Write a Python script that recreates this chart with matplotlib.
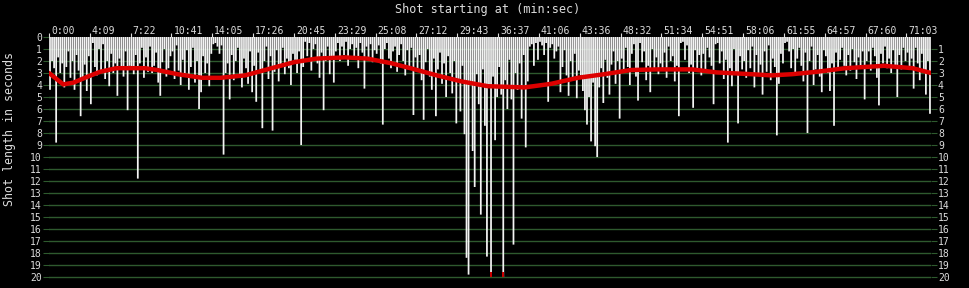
#!/usr/bin/env python3
import matplotlib
matplotlib.use('Agg')
import matplotlib.pyplot as plt
from matplotlib.transforms import ScaledTranslation
import numpy as np

# Длины планов (сек), по 20 планов на деление верхней оси
seg00 = [4.4, 2.0, 2.6, 8.8, 1.7, 3.0, 2.2, 4.2, 2.5, 1.2, 3.4, 2.0, 4.4, 1.5, 2.8, 6.6, 3.6, 2.3, 4.5, 1.6]
seg01 = [5.6, 0.5, 2.5, 3.2, 1.0, 2.8, 0.6, 3.5, 2.0, 4.1, 1.4, 3.0, 2.2, 4.9, 1.8, 2.7, 3.3, 1.2, 6.1, 2.4]
seg02 = [2.6, 3.1, 1.5, 11.8, 2.2, 0.9, 3.4, 1.7, 2.9, 0.8, 3.0, 2.4, 1.3, 3.8, 4.9, 2.1, 1.0, 3.3, 2.6, 1.6]
seg03 = [1.2, 3.5, 0.7, 2.8, 4.0, 1.9, 3.2, 1.1, 4.4, 2.5, 0.9, 3.8, 2.0, 6.0, 4.6, 1.6, 3.0, 2.2, 4.1, 1.4]
seg04 = [0.6, 0.5, 0.8, 1.4, 0.7, 9.8, 3.0, 2.2, 5.2, 1.5, 3.6, 2.0, 0.9, 3.3, 4.2, 1.8, 2.6, 3.9, 1.2, 4.6]
seg05 = [2.4, 5.4, 1.3, 3.0, 7.6, 2.0, 0.8, 3.5, 1.6, 7.8, 2.9, 1.1, 3.7, 2.3, 0.9, 3.1, 1.8, 2.6, 4.0, 1.4]
seg06 = [1.9, 3.0, 1.2, 9.0, 2.5, 0.4, 1.6, 0.5, 2.8, 1.0, 0.6, 2.2, 3.4, 1.3, 6.1, 2.0, 0.8, 3.1, 1.7, 3.8]
seg07 = [1.2, 0.5, 2.0, 0.8, 1.5, 0.4, 2.4, 1.0, 0.6, 1.8, 0.9, 2.6, 0.5, 1.3, 4.3, 0.8, 1.7, 0.6, 2.1, 1.1]
seg08 = [1.4, 0.7, 2.2, 7.3, 1.0, 0.5, 1.8, 2.6, 1.2, 0.8, 2.9, 1.5, 0.6, 2.0, 3.2, 1.1, 2.5, 0.9, 6.5, 1.7]
seg09 = [2.8, 1.5, 3.6, 6.9, 2.1, 1.0, 3.3, 4.4, 1.8, 6.6, 2.7, 1.3, 3.9, 2.2, 5.0, 1.6, 3.0, 4.7, 2.0, 7.2]
seg10 = [3.5, 6.2, 2.4, 8.1, 18.4, 19.8, 4.0, 9.5, 12.5, 3.1, 5.6, 14.8, 2.7, 7.4, 18.3, 4.2, 20.5, 3.3, 8.6, 5.0]
seg11 = [2.5, 4.8, 21.0, 3.6, 6.0, 1.9, 5.2, 17.3, 3.0, 4.4, 2.2, 6.8, 1.5, 9.2, 3.7, 0.8, 0.6, 2.4, 0.5, 1.9]
seg12 = [0.4, 0.7, 1.5, 0.5, 5.4, 0.9, 0.6, 1.8, 1.2, 0.8, 4.6, 2.5, 1.1, 3.2, 4.9, 2.0, 3.6, 1.4, 5.1, 2.8]
seg13 = [3.2, 4.5, 6.1, 7.3, 5.0, 8.7, 3.8, 9.1, 10.0, 4.2, 2.6, 5.5, 1.9, 3.4, 4.8, 2.3, 1.2, 3.9, 2.0, 6.8]
seg14 = [1.8, 3.0, 0.9, 2.5, 4.0, 1.4, 0.6, 3.3, 5.3, 0.5, 2.1, 1.2, 3.6, 2.4, 4.6, 1.0, 2.8, 1.7, 3.1, 2.2]
seg15 = [2.6, 1.3, 3.4, 0.8, 2.0, 1.6, 3.7, 2.4, 6.6, 0.5, 0.4, 1.9, 0.7, 3.0, 2.3, 5.9, 1.1, 2.7, 1.5, 3.2]
seg16 = [1.4, 2.8, 0.9, 1.7, 2.4, 5.6, 0.6, 0.5, 2.2, 1.2, 3.5, 1.9, 8.8, 2.6, 4.1, 1.0, 3.0, 7.2, 1.6, 2.7]
seg17 = [2.0, 3.4, 1.1, 2.6, 0.8, 4.2, 1.5, 3.0, 2.3, 4.8, 1.2, 2.9, 0.7, 3.6, 1.8, 2.5, 8.2, 3.9, 1.4, 2.2]
seg18 = [0.5, 0.4, 1.2, 2.6, 1.0, 3.1, 1.8, 0.9, 2.4, 3.7, 1.3, 8.0, 2.0, 0.8, 4.0, 2.7, 1.5, 3.3, 4.6, 1.1]
seg19 = [1.6, 3.0, 4.5, 2.2, 7.4, 1.3, 2.6, 1.9, 0.9, 2.4, 3.2, 1.5, 2.8, 1.0, 2.1, 3.5, 1.7, 2.5, 1.2, 5.2]
seg20 = [2.0, 1.2, 2.8, 0.9, 1.6, 3.4, 5.7, 1.4, 2.2, 0.8, 2.6, 1.8, 3.0, 1.1, 2.4, 5.0, 1.5, 2.7, 0.9, 2.0]
seg21 = [1.3, 2.5, 1.8, 4.3, 0.9, 2.2, 3.6, 1.4, 2.9, 4.8, 2.0, 6.4]

shot_lengths = (seg00 + seg01 + seg02 + seg03 + seg04 + seg05 + seg06 + seg07 + seg08 + seg09 + seg10
                + seg11 + seg12 + seg13 + seg14 + seg15 + seg16 + seg17 + seg18 + seg19 + seg20 + seg21)

# Линия тренда (номер плана, сек)
trend_shot = [0, 7, 12, 19, 25, 33, 47, 53, 63, 75, 84, 96, 109, 120, 131, 145, 156, 168, 177, 190,
              202, 215, 233, 246, 259, 272, 285, 298, 315, 327, 344, 354, 364, 376, 390, 409, 423, 432]
trend_len = [3.0, 3.95, 3.8, 3.3, 2.9, 2.6, 2.6, 2.75, 3.1, 3.4, 3.4, 3.2, 2.6, 2.1, 1.8, 1.7, 1.8, 2.2, 2.6, 3.2,
             3.7, 4.1, 4.2, 3.9, 3.4, 3.1, 2.75, 2.7, 2.7, 2.95, 3.1, 3.2, 3.1, 2.9, 2.6, 2.4, 2.6, 3.0]

time_labels = ['0:00', '4:09', '7:22', '10:41', '14:05', '17:26', '20:45', '23:29', '25:08', '27:12', '29:43',
               '36:37', '41:06', '43:36', '48:32', '51:34', '54:51', '58:06', '61:55', '64:57', '67:60', '71:03']
shots_per_label = 20
y_max = 20

fg = '#dcdcdc'
grid_col = '#2e5a2e'
mono = 'DejaVu Sans Mono'


def main():
    n = len(shot_lengths)
    x = np.arange(n)
    vals = np.array(shot_lengths)

    fig = plt.figure(figsize=(9.7, 2.88), dpi=100, facecolor='black')
    ax = fig.add_axes([49 / 970, 7.4 / 288, 882 / 970, 243.6 / 288])
    ax.set_facecolor('black')

    # Сетка
    for v in range(1, y_max + 1):
        ax.axhline(v, color=grid_col, linewidth=1.0, zorder=1)

    # Столбцы
    bars = ax.bar(x + 0.5, np.minimum(vals, y_max), width=0.86, bottom=0, color='#f4f4f4',
                  edgecolor='none', linewidth=0, zorder=2)
    for b in bars:
        b.set_snap(False)
    # Отметки для планов длиннее шкалы
    over = vals > y_max
    ax.bar(x[over] + 0.5, np.full(over.sum(), 0.4), bottom=y_max - 0.4, width=1.0,
           color='#cc0000', edgecolor='none', zorder=3)

    # Тренд
    ax.plot(trend_shot, trend_len, color='#dd0000', linewidth=3.2, zorder=4, solid_capstyle='round')

    ax.set_xlim(0, n)
    ax.set_ylim(y_max + 0.3, 0)

    for s in ax.spines.values():
        s.set_visible(False)

    # Левая и правая шкалы
    ax.set_yticks(range(0, y_max + 1))
    ax.set_yticklabels([str(v) for v in range(0, y_max + 1)], fontsize=7, family=mono, color=fg)
    ax.tick_params(axis='y', length=4, color=grid_col, pad=1, labelleft=True, left=True)
    ax2 = ax.twinx()
    ax2.set_ylim(ax.get_ylim())
    ax2.set_yticks(range(1, y_max + 1))
    ax2.set_yticklabels([str(v) for v in range(1, y_max + 1)], fontsize=7, family=mono, color=fg)
    ax2.tick_params(axis='y', length=4, color=grid_col, pad=1)
    for s in ax2.spines.values():
        s.set_visible(False)

    # Верхняя шкала времени
    ticks = [i * shots_per_label for i in range(len(time_labels))]
    ax.xaxis.tick_top()
    ax.set_xticks(ticks)
    ax.set_xticklabels(time_labels, fontsize=7, family=mono, color=fg, ha='left')
    ax.tick_params(axis='x', length=3, color=fg, pad=0, direction='out', width=0.8)
    off = ScaledTranslation(2 / 100, -3.5 / 100, fig.dpi_scale_trans)
    for lbl in ax.get_xticklabels():
        lbl.set_transform(lbl.get_transform() + off)

    fig.text(488 / 970, 1 - 10 / 288, 'Shot starting at (min:sec)', ha='center', va='center',
             fontsize=8.6, family=mono, color=fg)
    fig.text(10 / 970, 1 - 129 / 288, 'Shot length in seconds', ha='center', va='center',
             rotation=90, fontsize=8.4, family=mono, color=fg)

    fig.savefig('out.png', dpi=100, facecolor='black')


if __name__ == '__main__':
    main()
